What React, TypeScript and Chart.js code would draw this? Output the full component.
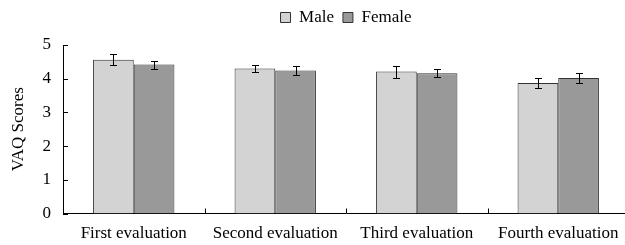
import React, { useEffect, useRef } from "react";
import { Chart, registerables } from "chart.js";

Chart.register(...registerables);

const categories = ["First evaluation", "Second evaluation", "Third evaluation", "Fourth evaluation"];
const maleValues = [4.56, 4.30, 4.21, 3.87];
const maleErrors = [0.16, 0.11, 0.18, 0.15];
const femaleValues = [4.42, 4.24, 4.16, 4.02];
const femaleErrors = [0.12, 0.13, 0.12, 0.15];
const yTickValues = [0, 1, 2, 3, 4, 5];

const FONT = "'Liberation Serif', 'Times New Roman', serif";

const errorBarPlugin = {
  id: "errorBars",
  afterDatasetsDraw(chart: any) {
    const { ctx } = chart;
    const yScale = chart.scales.y;
    ctx.save();
    ctx.strokeStyle = "#000";
    ctx.lineWidth = 1;
    chart.data.datasets.forEach((ds: any, di: number) => {
      const meta = chart.getDatasetMeta(di);
      meta.data.forEach((bar: any, i: number) => {
        const v = ds.data[i];
        const e = ds.errors[i];
        const x = Math.round(bar.x) + 0.5;
        const yt = Math.round(yScale.getPixelForValue(v + e)) + 0.5;
        const yb = Math.round(yScale.getPixelForValue(v - e)) + 0.5;
        const cap = 3.5;
        ctx.beginPath();
        ctx.moveTo(x, yt);
        ctx.lineTo(x, yb);
        ctx.moveTo(x - cap, yt);
        ctx.lineTo(x + cap, yt);
        ctx.moveTo(x - cap, yb);
        ctx.lineTo(x + cap, yb);
        ctx.stroke();
      });
    });
    ctx.restore();
  },
};

const insideTicksPlugin = {
  id: "insideTicks",
  afterDraw(chart: any) {
    const { ctx, chartArea } = chart;
    const xs = chart.scales.x;
    const ys = chart.scales.y;
    ctx.save();
    ctx.strokeStyle = "#000";
    ctx.lineWidth = 1;
    ctx.beginPath();
    yTickValues.forEach((v) => {
      const y = Math.round(ys.getPixelForValue(v)) + 0.5;
      ctx.moveTo(chartArea.left, y);
      ctx.lineTo(chartArea.left + 5, y);
    });
    for (let i = 1; i < categories.length; i++) {
      const x = Math.round((xs.getPixelForTick(i - 1) + xs.getPixelForTick(i)) / 2) + 0.5;
      ctx.moveTo(x, chartArea.bottom);
      ctx.lineTo(x, chartArea.bottom - 5);
    }
    ctx.stroke();
    ctx.restore();
  },
};

// adds extra space below the legend
const legendSpacerPlugin = {
  id: "legendSpacer",
  beforeLayout(chart: any) {
    const lg = chart.legend;
    if (lg && !lg._spacerPatched) {
      const orig = lg.fit.bind(lg);
      lg.fit = function () {
        orig();
        this.height += 9;
      };
      lg._spacerPatched = true;
    }
  },
};

export default function App() {
  const ref = useRef<HTMLCanvasElement>(null);
  useEffect(() => {
    if (!ref.current) return;
    const chart = new Chart(ref.current, {
      type: "bar",
      data: {
        labels: categories,
        datasets: [
          {
            label: "Male",
            data: maleValues,
            errors: maleErrors,
            backgroundColor: "#d3d3d3",
            borderColor: "#333333",
            borderWidth: 1,
            categoryPercentage: 0.575,
            barPercentage: 1,
          } as any,
          {
            label: "Female",
            data: femaleValues,
            errors: femaleErrors,
            backgroundColor: "#999999",
            borderColor: "#333333",
            borderWidth: 1,
            categoryPercentage: 0.575,
            barPercentage: 1,
          } as any,
        ],
      },
      options: {
        animation: false,
        responsive: false,
        maintainAspectRatio: false,
        layout: { padding: { left: 0, right: 3, top: 0, bottom: 0 } },
        plugins: {
          legend: {
            display: true,
            position: "top",
            fullSize: false,
            labels: {
              boxWidth: 10,
              boxHeight: 10,
              padding: 9,
              color: "#000",
              font: { family: FONT, size: 17 },
            },
          },
          tooltip: { enabled: false },
        },
        scales: {
          x: {
            grid: { display: false, drawTicks: false },
            border: { display: true, color: "#000", width: 1 },
            ticks: {
              color: "#000",
              font: { family: FONT, size: 17 },
              padding: 10,
              maxRotation: 0,
              autoSkip: false,
            },
            afterFit: (s: any) => {
              s.height = 31.5;
            },
          },
          y: {
            min: 0,
            max: 5,
            ticks: {
              stepSize: 1,
              color: "#000",
              font: { family: FONT, size: 17 },
              padding: 12,
            },
            grid: { display: false, drawTicks: false },
            border: { display: true, color: "#000", width: 1 },
            title: {
              display: true,
              text: "VAQ Scores",
              color: "#000",
              font: { family: FONT, size: 17 },
              padding: { top: 8, bottom: 0 },
            },
            afterFit: (s: any) => {
              s.width = 63;
            },
          },
        },
      },
      plugins: [legendSpacerPlugin, errorBarPlugin, insideTicksPlugin],
    });
    return () => chart.destroy();
  }, []);
  return (
    <div style={{ position: "absolute", left: 0, top: 0, width: 625, height: 245, overflow: "hidden", background: "#fff" }}>
      <canvas ref={ref} width={632} height={245} style={{ width: 632, height: 245, display: "block" }} />
    </div>
  );
}
